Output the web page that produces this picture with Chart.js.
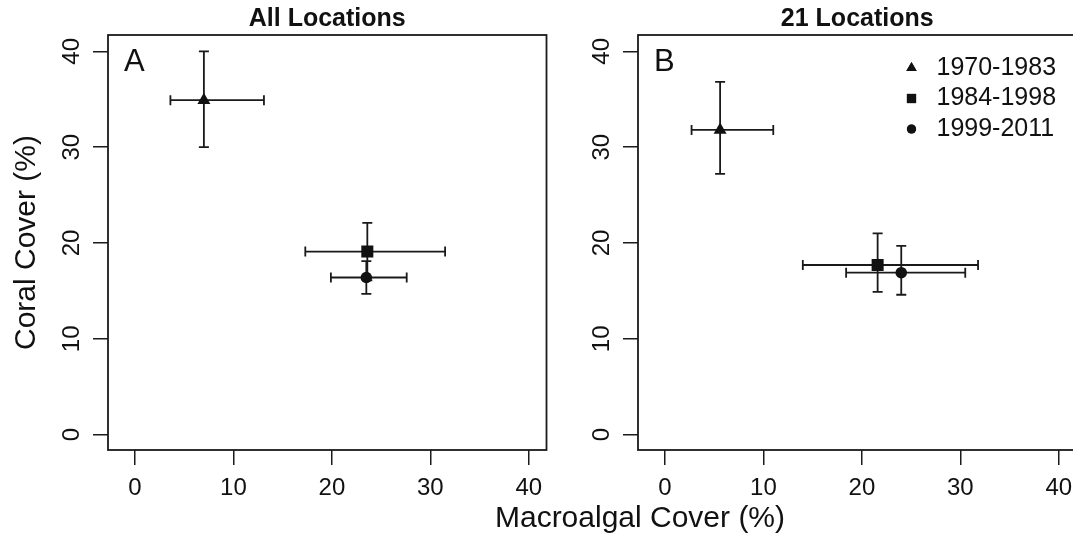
<!DOCTYPE html>
<html>
<head>
<meta charset="utf-8">
<script src="https://cdn.jsdelivr.net/npm/chart.js@4/dist/chart.umd.min.js"></script>
<style>
  html, body { margin: 0; padding: 0; background: #fff; }
  body { width: 1073px; height: 536px; overflow: hidden; position: relative;
         font-family: 'Liberation Sans', Arial, sans-serif; }
  .panel { position: absolute; top: 0; height: 536px; }
  #wrapA { left: 0; width: 555px; }
  #wrapB { left: 555px; width: 530px; }
  #xtitle { position: absolute; left: 340px; width: 600px; top: 499px; line-height: 36px;
            font-size: 30px; text-align: center; color: #111; }
</style>
</head>
<body>
<div class="panel" id="wrapA"><canvas id="chartA"></canvas></div>
<div class="panel" id="wrapB"><canvas id="chartB"></canvas></div>
<div id="xtitle">Macroalgal Cover (%)</div>
<script>
"use strict";

// data (means with error ranges)
var periods = ['1970-1983', '1984-1998', '1999-2011'];
var axisTicks = [0, 10, 20, 30, 40];

// panel A - all locations
var allX     = [7.0, 23.6, 23.5];
var allY     = [34.9, 19.1, 16.4];
var allXLow  = [3.6, 17.3, 19.9];
var allXHigh = [13.1, 31.5, 27.6];
var allYLow  = [30.0, 16.1, 14.7];
var allYHigh = [40.0, 22.1, 18.1];

// panel B - 21 locations
var subX     = [5.6, 21.6, 24.0];
var subY     = [31.8, 17.7, 16.9];
var subXLow  = [2.7, 14.0, 18.4];
var subXHigh = [11.0, 31.8, 30.5];
var subYLow  = [27.2, 14.9, 14.6];
var subYHigh = [36.8, 21.0, 19.7];

var xRange = [-2.74, 41.8];
var yRange = [-1.6, 41.7];

var FONT = "'Liberation Sans', Arial, sans-serif";
var INK = '#111';
Chart.defaults.font.family = FONT;
Chart.defaults.color = INK;

var markerStyles = ['triangle', 'rect', 'circle'];
var markerSizes = [7.5, 8.5, 5.8];
var legendSizes = [6, 6.5, 4.6];

function buildSets(xs, ys, xLo, xHi, yLo, yHi) {
  return periods.map(function(p, i) {
    return {
      label: p,
      data: [{ x: xs[i], y: ys[i], xMin: xLo[i], xMax: xHi[i], yMin: yLo[i], yMax: yHi[i] }],
      pointStyle: markerStyles[i],
      pointRadius: markerSizes[i],
      backgroundColor: INK,
      borderColor: INK,
      borderWidth: 0
    };
  });
}

// error bars with flat caps
var errorBars = {
  id: 'errorBars',
  beforeDatasetsDraw: function(chart) {
    var ctx = chart.ctx, sx = chart.scales.x, sy = chart.scales.y, cap = 5;
    ctx.save();
    ctx.strokeStyle = '#1a1a1a';
    ctx.lineWidth = 1.8;
    chart.data.datasets.forEach(function(ds) {
      ds.data.forEach(function(d) {
        var px = sx.getPixelForValue(d.x), py = sy.getPixelForValue(d.y);
        var x0 = sx.getPixelForValue(d.xMin), x1 = sx.getPixelForValue(d.xMax);
        var y0 = sy.getPixelForValue(d.yMin), y1 = sy.getPixelForValue(d.yMax);
        ctx.beginPath();
        ctx.moveTo(x0, py); ctx.lineTo(x1, py);
        ctx.moveTo(x0, py - cap); ctx.lineTo(x0, py + cap);
        ctx.moveTo(x1, py - cap); ctx.lineTo(x1, py + cap);
        ctx.moveTo(px, y0); ctx.lineTo(px, y1);
        ctx.moveTo(px - cap, y0); ctx.lineTo(px + cap, y0);
        ctx.moveTo(px - cap, y1); ctx.lineTo(px + cap, y1);
        ctx.stroke();
      });
    });
    ctx.restore();
  }
};

// box round the plot, panel letter and (panel B) the key
var frame = {
  id: 'frame',
  afterDraw: function(chart, args, opts) {
    var ctx = chart.ctx, a = chart.chartArea;
    ctx.save();
    ctx.strokeStyle = '#1a1a1a';
    ctx.lineWidth = 1.8;
    ctx.strokeRect(a.left, a.top, a.right - a.left, a.bottom - a.top);

    ctx.fillStyle = INK;
    ctx.font = '31px ' + FONT;
    ctx.textBaseline = 'middle';
    ctx.textAlign = 'left';
    ctx.fillText(opts.letter, a.left + 16, a.top + 27);

    if (opts.legend) {
      ctx.font = '25px ' + FONT;
      chart.data.datasets.forEach(function(ds, i) {
        var ly = a.top + 33 + i * 30.5;
        Chart.helpers.drawPoint(ctx, { pointStyle: markerStyles[i], radius: legendSizes[i], borderWidth: 0 },
          a.right - 165, ly);
        ctx.fill();
        ctx.fillText(ds.label, a.right - 140, ly);
      });
    }
    ctx.restore();
  }
};

function makeOptions(title, yWidth, showYTitle, letter, legend) {
  return {
    animation: false,
    responsive: true,
    maintainAspectRatio: false,
    layout: { padding: { top: 0, right: 8, bottom: 0, left: 0 } },
    plugins: {
      legend: { display: false },
      tooltip: { enabled: false },
      title: {
        display: true,
        text: title,
        fullSize: false,
        color: INK,
        font: { size: 25, weight: 'bold' },
        padding: { top: 4, bottom: 1 }
      },
      frame: { letter: letter, legend: legend }
    },
    scales: {
      x: {
        type: 'linear',
        min: xRange[0],
        max: xRange[1],
        afterBuildTicks: function(s) { s.ticks = axisTicks.map(function(v) { return { value: v }; }); },
        afterFit: function(s) { s.height = 86; },
        border: { display: false },
        grid: { drawOnChartArea: false, drawTicks: true, tickLength: 15, color: '#1a1a1a', lineWidth: 1.5 },
        ticks: { autoSkip: false, maxRotation: 0, padding: 9, color: INK, font: { size: 24 } }
      },
      y: {
        type: 'linear',
        min: yRange[0],
        max: yRange[1],
        afterBuildTicks: function(s) { s.ticks = axisTicks.map(function(v) { return { value: v }; }); },
        afterFit: function(s) { s.width = yWidth; },
        border: { display: false },
        grid: { drawOnChartArea: false, drawTicks: true, tickLength: 15, color: '#1a1a1a', lineWidth: 1.5 },
        ticks: { autoSkip: false, minRotation: 90, maxRotation: 90, crossAlign: 'center', padding: 7,
                 color: INK, font: { size: 24 } },
        title: { display: showYTitle, text: 'Coral Cover (%)', color: INK, font: { size: 30 }, padding: { top: 9 } }
      }
    }
  };
}

// panel A
var ctx = document.getElementById('chartA').getContext('2d');
var chartA = new Chart(ctx, {
  type: 'scatter',
  data: { datasets: buildSets(allX, allY, allXLow, allXHigh, allYLow, allYHigh) },
  options: makeOptions('All Locations', 108, true, 'A', false),
  plugins: [errorBars, frame]
});

// panel B
var ctx2 = document.getElementById('chartB').getContext('2d');
var chartB = new Chart(ctx2, {
  type: 'scatter',
  data: { datasets: buildSets(subX, subY, subXLow, subXHigh, subYLow, subYHigh) },
  options: makeOptions('21 Locations', 83, false, 'B', true),
  plugins: [errorBars, frame]
});
</script>
</body>
</html>
